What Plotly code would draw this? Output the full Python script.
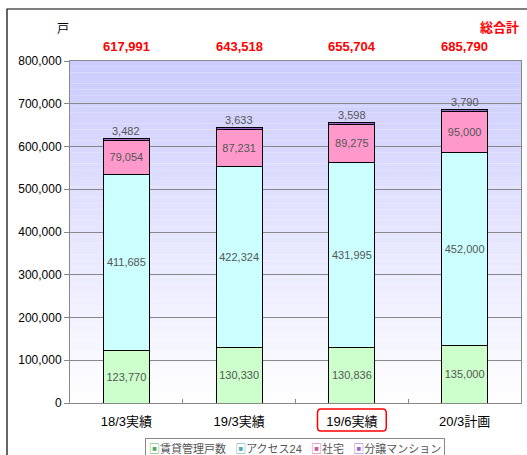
import plotly.graph_objects as go

categories = ["18/3実績", "19/3実績", "19/6実績", "20/3計画"]
chintai = [123770, 130330, 130836, 135000]
access24 = [411685, 422324, 431995, 452000]
shataku = [79054, 87231, 89275, 95000]
bunjo = [3482, 3633, 3598, 3790]
series_names = ["賃貸管理戸数", "アクセス24", "社宅", "分譲マンション"]
y_ticks = [0, 100000, 200000, 300000, 400000, 500000, 600000, 700000, 800000]

colors = ["#CCFFCC", "#CCFFFF", "#FF99CC", "#9966CC"]
legend_marker_colors = ["#55AA55", "#55AAAA", "#CC5599", "#9966CC"]
FONT = "Liberation Sans, Noto Sans CJK JP, sans-serif"

fig = go.Figure()
for name, vals, col, show_text in zip(series_names, [chintai, access24, shataku, bunjo], colors,
                                      [True, True, True, False]):
    fig.add_trace(go.Bar(
        x=categories, y=vals, name=name, showlegend=False,
        marker=dict(color=col, line=dict(color="#000000", width=1)),
        text=[f"{v:,}" for v in vals] if show_text else None,
        textposition="inside" if show_text else "none",
        insidetextanchor="middle",
        textfont=dict(family=FONT, size=11, color="#555555"),
        width=0.41,
    ))

totals = [a + b + c + d for a, b, c, d in zip(chintai, access24, shataku, bunjo)]

annotations = []
for cat, tot, b in zip(categories, totals, bunjo):
    annotations.append(dict(x=cat, y=tot, text=f"{b:,}", showarrow=False, yanchor="bottom",
                            yshift=0, font=dict(family=FONT, size=11, color="#555555")))
    annotations.append(dict(x=cat, xref="x", y=(403 - 47) / 342, yref="paper", yanchor="middle",
                            text=f"<b>{tot:,}</b>",
                            showarrow=False, font=dict(family=FONT, size=13, color="#FF0000")))
annotations.append(dict(x=(55 - 70) / 451, y=(403 - 29) / 342, xref="paper", yref="paper", text="戸",
                        showarrow=False, yanchor="middle",
                        font=dict(family=FONT, size=12, color="#000000")))
annotations.append(dict(x=(521 - 70) / 451, y=(403 - 27) / 342, xref="paper", yref="paper",
                        text="<b>総合計</b>", showarrow=False, xanchor="right", yanchor="middle",
                        font=dict(family=FONT, size=13, color="#FF0000")))
# compact legend box
legend_text = "   ".join(
    f"<span style='color:{mc}'>▣</span>{nm}" for nm, mc in zip(series_names, legend_marker_colors)
)
annotations.append(dict(x=295 / 527, y=1 - 448 / 455, xref="paper", yref="paper", text=legend_text,
                        showarrow=False, xanchor="center", yanchor="middle",
                        bordercolor="#888888", borderwidth=1, borderpad=3, bgcolor="white",
                        font=dict(family=FONT, size=11, color="#555555")))
# fix legend coords to container: convert container to paper
for a in annotations[-1:]:
    a["x"] = (295 - 70) / 451
    a["y"] = (403 - 448) / 342

shapes = []
# gradient background
n = 60
top = (204, 204, 255)
for i in range(n):
    t = i / n
    r = int(round(top[0] + (255 - top[0]) * t))
    g = int(round(top[1] + (255 - top[1]) * t))
    shapes.append(dict(type="rect", xref="paper", yref="paper", x0=0, x1=1,
                       y0=1 - (i + 1) / n, y1=1 - i / n, fillcolor=f"rgb({r},{g},255)",
                       line=dict(width=0), layer="below"))
# outer frame
shapes.append(dict(type="rect", xref="paper", yref="paper", x0=-0.1397, x1=1.03, y0=-0.2, y1=1.152,
                   line=dict(color="#000000", width=1.2), fillcolor="rgba(0,0,0,0)"))
# red rounded box around 19/6 label (x in category units, y in paper units)
cx = 2
x0, x1 = cx - 0.305, cx + 0.305
y0, y1 = (403 - 431) / 342, (403 - 409) / 342
rx, ry = 0.03, 0.012
path = (f"M {x0+rx},{y0} L {x1-rx},{y0} Q {x1},{y0} {x1},{y0+ry} L {x1},{y1-ry} Q {x1},{y1} {x1-rx},{y1} "
        f"L {x0+rx},{y1} Q {x0},{y1} {x0},{y1-ry} L {x0},{y0+ry} Q {x0},{y0} {x0+rx},{y0} Z")
shapes.append(dict(type="path", xref="x", yref="paper", path=path,
                   line=dict(color="#FF0000", width=1.5), fillcolor="rgba(0,0,0,0)"))

fig.update_layout(
    barmode="stack",
    width=527, height=455,
    margin=dict(l=70, r=6, t=61, b=52),
    paper_bgcolor="white",
    plot_bgcolor="rgba(0,0,0,0)",
    font=dict(family=FONT, size=11, color="#000000"),
    showlegend=False,
    annotations=annotations,
    shapes=shapes,
    xaxis=dict(showgrid=False, showline=True, linecolor="#888888", mirror=True,
               ticks="inside", tickson="boundaries", ticklen=4, tickcolor="#888888",
               automargin=False, ticklabelstandoff=6,
               tickfont=dict(family=FONT, size=13, color="#000000")),
    yaxis=dict(range=[0, 800000], tickvals=y_ticks, tickformat=",", showgrid=True,
               gridcolor="#888888", gridwidth=1, showline=True, linecolor="#888888", mirror=True,
               ticks="outside", ticklen=5, tickcolor="#888888", zeroline=False, automargin=False,
               tickfont=dict(family=FONT, size=12, color="#000000")),
    bargap=0.59,
)

fig.write_html("out.html")
